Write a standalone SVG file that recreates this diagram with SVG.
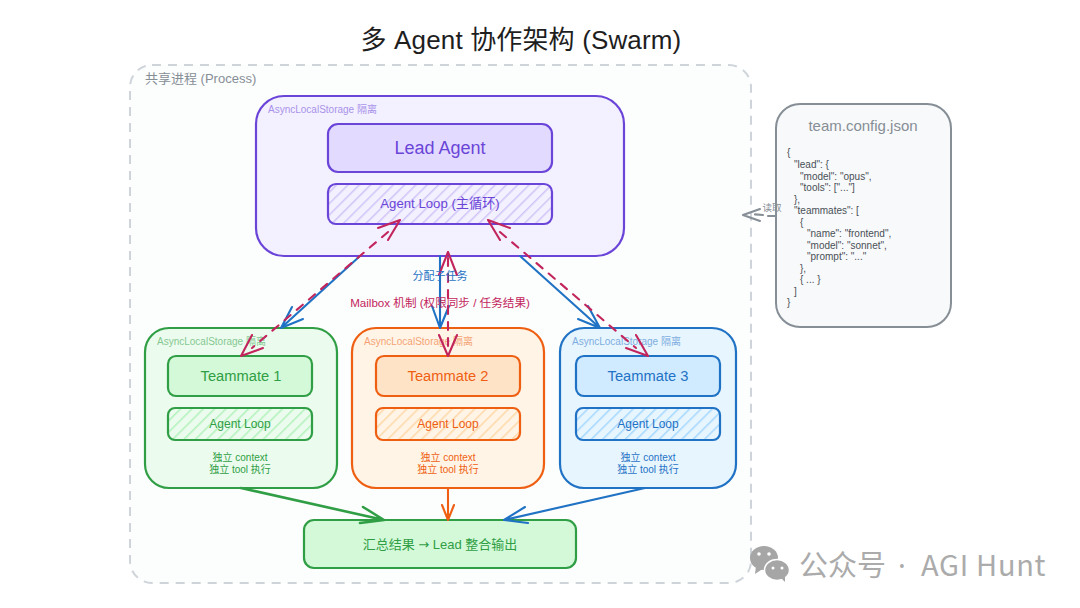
<svg xmlns="http://www.w3.org/2000/svg" width="1080" height="608" viewBox="0 0 1080 608">
<style>
text{font-family:"Liberation Sans","Noto Sans CJK SC",sans-serif;text-anchor:middle}
.l{text-anchor:start}
.box{stroke-width:2.2}
.conn{fill:none;stroke-width:2.1;stroke-linecap:round;stroke-linejoin:round}
.dash{stroke-dasharray:8 8}
.pu{stroke:#6a45d8}.gr{stroke:#2f9e44}.or{stroke:#ee5f12}.bl{stroke:#1f72c4}.pk{stroke:#c2255c}.gy{stroke:#868e96}
.tpu{fill:#6a45d8}.tgr{fill:#2f9e44}.tor{fill:#ee5f12}.tbl{fill:#1f72c4}.tpk{fill:#c2255c}.tgy{fill:#868e96}
.cap{font-size:10px;opacity:.55}
.json{font-size:10px;fill:#495057;text-anchor:start}
</style>
<defs>
<pattern id="hpu" width="8" height="8" patternUnits="userSpaceOnUse" patternTransform="rotate(45)"><rect width="8" height="8" fill="#f3f0ff"/><rect width="1.5" height="8" fill="#d0c4f7"/></pattern>
<pattern id="hgr" width="8" height="8" patternUnits="userSpaceOnUse" patternTransform="rotate(45)"><rect width="8" height="8" fill="#ebfbee"/><rect width="1.5" height="8" fill="#b2f2bb"/></pattern>
<pattern id="hor" width="8" height="8" patternUnits="userSpaceOnUse" patternTransform="rotate(45)"><rect width="8" height="8" fill="#fff4e6"/><rect width="1.5" height="8" fill="#ffd8a8"/></pattern>
<pattern id="hbl" width="8" height="8" patternUnits="userSpaceOnUse" patternTransform="rotate(45)"><rect width="8" height="8" fill="#e7f5ff"/><rect width="1.5" height="8" fill="#a5d8ff"/></pattern>
</defs>
<rect width="1080" height="608" fill="#fff"/>
<text id="title" x="521" y="49" font-size="26" fill="#1e1e1e" letter-spacing=".15">多 Agent 协作架构 (Swarm)</text>
<g id="process">
<rect x="130" y="65" width="621" height="518" rx="22" fill="#fcfdfd" stroke="#ced4da" stroke-width="2" stroke-dasharray="9 7"/>
<text class="l tgy" x="145" y="83" font-size="13">共享进程 (Process)</text>
</g>
<g id="lead-container">
<rect class="box pu" x="256" y="96" width="368" height="160" rx="28" fill="#f3f0ff"/>
<text class="l tpu cap" x="268" y="113">AsyncLocalStorage 隔离</text>
</g>
<g id="lead-agent">
<rect class="box pu" x="328" y="124" width="224" height="48" rx="10" fill="#e3dbff"/>
<text class="tpu" x="440" y="154" font-size="18">Lead Agent</text>
</g>
<g id="lead-loop">
<rect class="box pu" x="328" y="184" width="224" height="40" rx="8" fill="url(#hpu)"/>
<text class="tpu" x="440" y="208" font-size="13.2">Agent Loop (主循环)</text>
</g>
<g id="teammate-1-container">
<rect class="box gr" x="145" y="328" width="192" height="160" rx="24" fill="#ebfbee"/>
<text class="l tgr cap" x="157" y="345">AsyncLocalStorage 隔离</text>
<text class="tgr" x="240" y="461" font-size="10">独立 context</text>
<text class="tgr" x="240" y="473" font-size="10">独立 tool 执行</text>
</g>
<g id="teammate-1">
<rect class="box gr" x="168" y="356" width="144" height="40" rx="8" fill="#d3f9d8"/>
<text class="tgr" x="241" y="381" font-size="14.7">Teammate 1</text>
</g>
<g id="teammate-1-loop">
<rect class="box gr" x="168" y="408" width="144" height="32" rx="7" fill="url(#hgr)"/>
<text class="tgr" x="240" y="428" font-size="12">Agent Loop</text>
</g>
<g id="teammate-2-container">
<rect class="box or" x="352" y="328" width="192" height="160" rx="24" fill="#fff4e6"/>
<text class="l tor cap" x="364" y="345">AsyncLocalStorage 隔离</text>
<text class="tor" x="448" y="461" font-size="10">独立 context</text>
<text class="tor" x="448" y="473" font-size="10">独立 tool 执行</text>
</g>
<g id="teammate-2">
<rect class="box or" x="376" y="356" width="144" height="40" rx="8" fill="#ffe3c7"/>
<text class="tor" x="448" y="381" font-size="14.7">Teammate 2</text>
</g>
<g id="teammate-2-loop">
<rect class="box or" x="376" y="408" width="144" height="32" rx="7" fill="url(#hor)"/>
<text class="tor" x="448" y="428" font-size="12">Agent Loop</text>
</g>
<g id="teammate-3-container">
<rect class="box bl" x="560" y="328" width="176" height="160" rx="24" fill="#e7f5ff"/>
<text class="l tbl cap" x="572" y="345">AsyncLocalStorage 隔离</text>
<text class="tbl" x="648" y="461" font-size="10">独立 context</text>
<text class="tbl" x="648" y="473" font-size="10">独立 tool 执行</text>
</g>
<g id="teammate-3">
<rect class="box bl" x="576" y="356" width="144" height="40" rx="8" fill="#d0ebff"/>
<text class="tbl" x="648" y="381" font-size="14.7">Teammate 3</text>
</g>
<g id="teammate-3-loop">
<rect class="box bl" x="576" y="408" width="144" height="32" rx="7" fill="url(#hbl)"/>
<text class="tbl" x="648" y="428" font-size="12">Agent Loop</text>
</g>
<g id="summary">
<rect class="box gr" x="304" y="520" width="272" height="48" rx="10" fill="#d3f9d8"/>
<text class="tgr" x="440" y="549" font-size="13">汇总结果 <tspan style="font-family:'DejaVu Sans',sans-serif">→</tspan> Lead 整合输出</text>
</g>
<g id="config">
<rect x="776" y="104" width="175" height="223" rx="24" fill="#f8f9fa" stroke="#868e96" stroke-width="2"/>
<text class="tgy" x="863" y="131" font-size="15">team.config.json</text>
<text class="json" x="787" y="156">{</text>
<text class="json" x="794" y="168">"lead": {</text>
<text class="json" x="800" y="180">"model": "opus",</text>
<text class="json" x="800" y="191">"tools": ["..."]</text>
<text class="json" x="794" y="203">},</text>
<text class="json" x="794" y="214">"teammates": [</text>
<text class="json" x="800" y="226">{</text>
<text class="json" x="807" y="237">"name": "frontend",</text>
<text class="json" x="807" y="249">"model": "sonnet",</text>
<text class="json" x="807" y="260">"prompt": "..."</text>
<text class="json" x="800" y="272">},</text>
<text class="json" x="800" y="283">{ ... }</text>
<text class="json" x="794" y="295">]</text>
<text class="json" x="787" y="306">}</text>
</g>
<g id="connectors">
<path class="conn bl" d="M360 256L281 328M292 307L281 328L303 319"/>
<path class="conn bl" d="M440 256L440 328M432 306L440 328L449 306"/>
<path class="conn bl" d="M520 256L600 328M578 319L600 328L588 306"/>
<path class="conn pk dash" d="M388 232L252 348"/>
<path class="conn pk" d="M241 356L252 335M241 356L263 348"/>
<path class="conn pk" d="M400 220L378 228M400 220L388 240"/>
<path class="conn pk dash" d="M448 258L448 350"/>
<path class="conn pk" d="M448 252L439 275M448 252L457 275M448 356L439 335M448 356L457 335"/>
<path class="conn pk dash" d="M500 232L636 348"/>
<path class="conn pk" d="M488 220L510 228M488 220L500 240M648 356L626 348M648 356L636 335"/>
<path class="conn gr" style="stroke-width:2.6" d="M241 488L384 520M363 507L384 520L360 523"/>
<path class="conn or" d="M448 488L448 520M442 505L448 520L454 505"/>
<path class="conn bl" d="M645 488L504 520M525 507L504 520L528 523"/>
<path class="conn gy" d="M776 216L768 216"/>
<path class="conn gy dash" d="M763 215L750 214"/>
<path class="conn gy" d="M743 215L760 209M743 215L760 221"/>
<text class="tbl" x="440" y="280" font-size="11">分配子任务</text>
<text class="tpk" x="440" y="307" font-size="11.6">Mailbox 机制 (权限同步 / 任务结果)</text>
<text class="tgy" x="772" y="211" font-size="9.5">读取</text>
</g>
<g id="watermark">
<ellipse cx="764" cy="558" rx="14" ry="12" fill="#a6a6a6"/>
<path d="M756 566L755 574L764 568Z" fill="#a6a6a6"/>
<ellipse cx="777" cy="570" rx="12.5" ry="10.5" fill="#a6a6a6" stroke="#fff" stroke-width="1.5"/>
<path d="M781 578L785 582L785 576Z" fill="#a6a6a6"/>
<circle cx="759" cy="554" r="1.8" fill="#fff"/><circle cx="769" cy="554" r="1.8" fill="#fff"/>
<circle cx="773" cy="568" r="1.5" fill="#fff"/><circle cx="782" cy="568" r="1.5" fill="#fff"/>
<text class="l" x="799" y="576" font-size="29" fill="#ababab" style="font-family:'Noto Sans CJK SC','Noto Sans',sans-serif">公众号</text>
<text class="l" x="898" y="576" font-size="29" fill="#ababab" style="font-family:'Noto Sans',sans-serif">·</text>
<text class="l" x="921" y="576" font-size="29" fill="#ababab" letter-spacing=".7" style="font-family:'Noto Sans CJK SC','Noto Sans',sans-serif">AGI Hunt</text>
</g>
</svg>
